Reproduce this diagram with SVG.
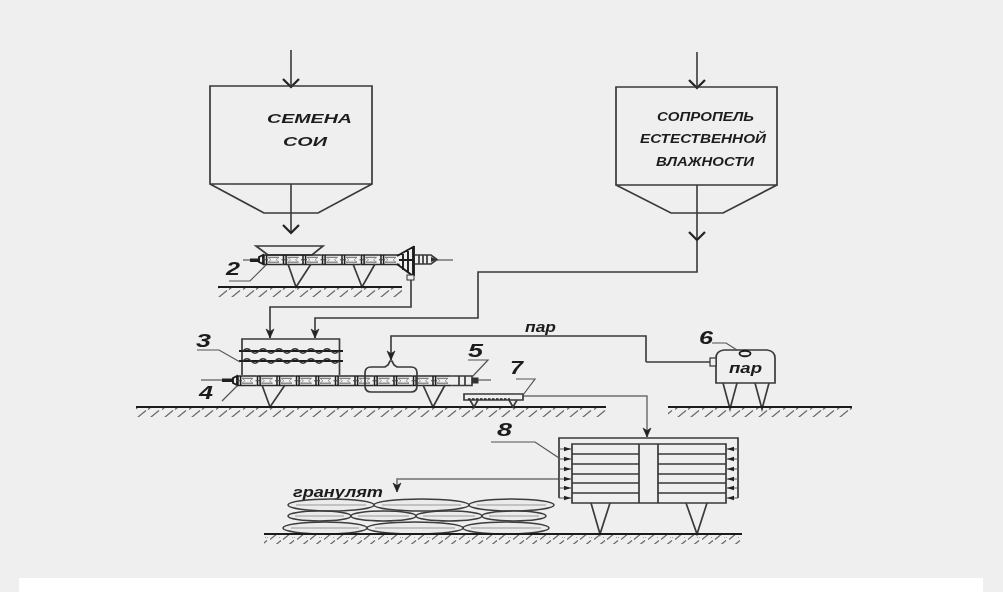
<svg xmlns="http://www.w3.org/2000/svg" xmlns:xlink="http://www.w3.org/1999/xlink" width="1003" height="592" viewBox="0 0 1003 592">
<style>
.l{fill:none;stroke:#3a3a3a;stroke-width:1.7}
.t{fill:none;stroke:#555;stroke-width:1.2}
.k{fill:none;stroke:#1c1c1c;stroke-width:1.9}
.c{fill:none;stroke:#3a3a3a;stroke-width:1.6}
.p{fill:none;stroke:#707070;stroke-width:1.5}
.g{fill:url(#hatch);stroke:none}
.e{fill:#ebebeb;stroke:#3c3c3c;stroke-width:1.6}
.m{fill:none;stroke:#999;stroke-width:1}
.a{stroke:#666;stroke-width:1.1;fill:none}
text{font-family:"Liberation Sans",Arial,sans-serif;font-style:italic;font-weight:bold;fill:#1c1c1c}
.b{font-size:14px}
.h{font-size:13.5px}
.n{font-size:18.5px}
</style>
<defs>
<filter id="soft" x="0" y="0" width="100%" height="100%"><feGaussianBlur stdDeviation="0.35"/></filter>
<marker id="open" markerUnits="userSpaceOnUse" markerWidth="20" markerHeight="18" refX="16" refY="9" orient="auto">
<path d="M8 1L16 9L8 17" fill="none" stroke="#222" stroke-width="2.2"/>
</marker>
<marker id="fill" markerUnits="userSpaceOnUse" markerWidth="12" markerHeight="10" refX="10" refY="5" orient="auto">
<path d="M1 1L10 5L1 9L3.5 5Z" fill="#222" stroke="#222" stroke-width=".6"/>
</marker>
<marker id="tiny" markerUnits="userSpaceOnUse" markerWidth="8" markerHeight="6" refX="7" refY="3" orient="auto">
<path d="M0 .8L7 3L0 5.200Z" fill="#222"/>
</marker>
<pattern id="hatch" patternUnits="userSpaceOnUse" width="27" height="10">
<path d="M0 9.500L11 .5M13 9.500L24 .5" stroke="#6a6a6a" stroke-width="1.300" fill="none"/>
<path d="M9 8L10 7M22 8L23 7M24 8L25 7" stroke="#a5a5a5" stroke-width="1" fill="none"/>
</pattern>
<g id="seg">
<path d="M0 0H19.500M0 9.500H19.500" stroke="#2c2c2c" stroke-width="1.500" fill="none"/>
<path d="M5 2.300H16M5 7.200H16" stroke="#666" stroke-width="1" fill="none"/>
<path d="M5 2.300L8 4.750L5 7.200M16 2.300L13 4.750L16 7.200" stroke="#888" stroke-width=".8" fill="none"/>
<path d="M1 0V9.500M3.600 0V9.500" stroke="#1c1c1c" stroke-width="1.500" fill="none"/>
<path d="M-1 4.750H5" stroke="#444" stroke-width="1"/>
</g>
<path id="wave" d="M0 0q4-4.500 8 0t8 0t8 0t8 0t8 0t8 0t8 0t8 0t8 0t8 0t8 0t8 0" fill="none" stroke="#333" stroke-width="1.300"/>
</defs>
<rect width="1003" height="592" fill="#efefef"/>
<rect x="19" y="578" width="964" height="14" fill="#fff"/>
<g id="diagram" filter="url(#soft)">
<g id="connectors">
<path class="c" d="M291 50V87" marker-end="url(#open)"/>
<path class="c" d="M291 184V233" marker-end="url(#open)"/>
<path class="c" d="M697 52V88" marker-end="url(#open)"/>
<path class="c" d="M697 185V240" marker-end="url(#open)"/>
<path class="c" d="M697 240V272H478V318H315V338" marker-end="url(#fill)"/>
<path class="c" d="M411 278V307H270V338" marker-end="url(#fill)"/>
<path class="c" d="M646 362V336H391V360" marker-end="url(#fill)"/>
<path class="c" d="M646 362H710"/>
<path class="p" d="M523 396H647V437" marker-end="url(#fill)"/>
<path class="p" d="M559 479H397V492" marker-end="url(#fill)"/>
<text class="b" x="525" y="332" textLength="31" lengthAdjust="spacingAndGlyphs">пар</text>
</g>

<g id="hopper-seeds">
<path class="l" d="M210 86H372V184H210ZM210 184L264 213H318L372 184"/>
<text class="h" x="267" y="123" textLength="85" lengthAdjust="spacingAndGlyphs">СЕМЕНА</text>
<text class="h" x="283" y="146" textLength="44" lengthAdjust="spacingAndGlyphs">СОИ</text>
</g>

<g id="hopper-soapstock">
<path class="l" d="M616 87H777V185H616ZM616 185L671 213H723L777 185"/>
<text class="h" x="657" y="121" textLength="97" lengthAdjust="spacingAndGlyphs">СОПРОПЕЛЬ</text>
<text class="h" x="640" y="143" textLength="126" lengthAdjust="spacingAndGlyphs">ЕСТЕСТВЕННОЙ</text>
<text class="h" x="656" y="166" textLength="98" lengthAdjust="spacingAndGlyphs">ВЛАЖНОСТИ</text>
</g>

<g id="extruder-2">
<path class="l" d="M256 246H323L312 255H268Z"/>
<path class="t" d="M243 260H251"/>
<rect x="250" y="258.500" width="9" height="3.500" fill="#222"/>
<path class="k" d="M259 257L263 255V264L259 262Z"/>
<use xlink:href="#seg" href="#seg" x="263" y="255"/>
<use xlink:href="#seg" href="#seg" x="282.500" y="255"/>
<use xlink:href="#seg" href="#seg" x="302" y="255"/>
<use xlink:href="#seg" href="#seg" x="321.500" y="255"/>
<use xlink:href="#seg" href="#seg" x="341" y="255"/>
<use xlink:href="#seg" href="#seg" x="360.500" y="255"/>
<use xlink:href="#seg" href="#seg" x="380" y="255"/>
<path class="k" d="M397 256L413 247V276L397 264M399 260H413M403 252V270M408 249V273"/>
<path class="k" d="M414 246V276"/>
<rect x="407" y="275" width="7" height="5" fill="#efefef" stroke="#333"/>
<path class="l" d="M415 255H431L437 259.500L431 264H415M419 255V264M423 255V264M427 255V264"/>
<path d="M431 257L437 259.500L431 262Z" fill="#333"/>
<path class="t" d="M437 260H453"/>
<path class="l" d="M288 264L296 287L311 264M353 264L362 287L375 264"/>
<rect class="g" x="218" y="287" width="184" height="10"/>
<path class="k" d="M218 287H402"/>
<text class="n" x="226" y="274.500" textLength="14" lengthAdjust="spacingAndGlyphs">2</text>
<path class="t" d="M229 281H250L266 265"/>
</g>

<g id="mixer-3">
<path class="l" d="M242 375V339H339.500V375"/>
<path class="k" d="M239 351H343M239 361H343"/>
<use xlink:href="#wave" href="#wave" x="243" y="351"/>
<use xlink:href="#wave" href="#wave" x="243" y="361"/>
<text class="n" x="196" y="346.500" textLength="15" lengthAdjust="spacingAndGlyphs">3</text>
<path class="t" d="M197 350H219L240 362"/>
</g>

<g id="extruder-4">
<path class="t" d="M201 380H222"/>
<rect x="222" y="378.500" width="11" height="3.500" fill="#222"/>
<path class="k" d="M233 378L237 376V385L233 383Z"/>
<use xlink:href="#seg" href="#seg" x="237" y="376"/>
<use xlink:href="#seg" href="#seg" x="256.500" y="376"/>
<use xlink:href="#seg" href="#seg" x="276" y="376"/>
<use xlink:href="#seg" href="#seg" x="295.500" y="376"/>
<use xlink:href="#seg" href="#seg" x="315" y="376"/>
<use xlink:href="#seg" href="#seg" x="334.500" y="376"/>
<use xlink:href="#seg" href="#seg" x="354" y="376"/>
<use xlink:href="#seg" href="#seg" x="373.500" y="376"/>
<use xlink:href="#seg" href="#seg" x="393" y="376"/>
<use xlink:href="#seg" href="#seg" x="412.500" y="376"/>
<use xlink:href="#seg" href="#seg" x="432" y="376"/>
<path class="l" d="M451.500 376H472V385.500H451.500M459 376V385.500M465 376V385.500"/>
<rect x="472" y="377.500" width="6.500" height="6" fill="#333"/>
<path class="t" d="M478 380H491"/>
<path class="l" d="M371 367H385L388 365L390 361H392L394 365L397 367H411Q417 367 417 373V386Q417 392 411 392H371Q365 392 365 386V373Q365 367 371 367Z"/>
<path class="l" d="M262 385L270 407L285 385M423 385L433 407L445 385"/>
<rect class="g" x="136" y="407" width="470" height="10"/>
<path class="k" d="M136 407H606"/>
<text class="n" x="199" y="398.500" textLength="14" lengthAdjust="spacingAndGlyphs">4</text>
<path class="t" d="M222 401L237 386"/>
</g>

<g id="label-5">
<text class="n" x="468" y="356.500" textLength="15" lengthAdjust="spacingAndGlyphs">5</text>
<path class="t" d="M468 360H488L472 377"/>
</g>

<g id="boiler-6">
<path class="l" d="M716 383V358Q716 351 724 350H767Q775 351 775 358V383Z"/>
<rect x="710" y="358" width="6" height="8" fill="#efefef" stroke="#333" stroke-width="1.200"/>
<ellipse cx="745" cy="353.500" rx="5.500" ry="2.800" class="k"/>
<text class="b" x="729" y="373" textLength="33" lengthAdjust="spacingAndGlyphs">пар</text>
<path class="l" d="M723 383L730 409L737 383M755 383L762 409L769 383"/>
<rect class="g" x="668" y="407" width="184" height="10"/>
<path class="k" d="M668 407H852"/>
<text class="n" x="699" y="343.500" textLength="14" lengthAdjust="spacingAndGlyphs">6</text>
<path class="t" d="M712 343H726L737 350"/>
</g>

<g id="belt-7">
<path class="l" d="M464 394H523V400H464Z"/>
<path d="M468 399H510" stroke="#222" stroke-width="1.500" stroke-dasharray="2.500 1.500"/>
<path class="l" d="M470 400L474 407L478 400M509 400L513 407L517 400"/>
<text class="n" x="510" y="373.500" textLength="13" lengthAdjust="spacingAndGlyphs">7</text>
<path class="t" d="M516 379H535L523 395"/>
</g>

<g id="dryer-8">
<path class="l" d="M559 498V438H738V498"/>
<path class="l" d="M572 444H726V503H572ZM639 444V503M658 444V503M572 454H639M658 454H726M572 464H639M658 464H726M572 474H639M658 474H726M572 483H639M658 483H726M572 493H639M658 493H726"/>
<path class="a" marker-end="url(#tiny)" d="M559 449H571"/>
<path class="a" marker-end="url(#tiny)" d="M559 459H571"/>
<path class="a" marker-end="url(#tiny)" d="M559 469H571"/>
<path class="a" marker-end="url(#tiny)" d="M559 479H571"/>
<path class="a" marker-end="url(#tiny)" d="M559 488H571"/>
<path class="a" marker-end="url(#tiny)" d="M559 498H571"/>
<path class="a" marker-end="url(#tiny)" d="M738 449H727"/>
<path class="a" marker-end="url(#tiny)" d="M738 459H727"/>
<path class="a" marker-end="url(#tiny)" d="M738 469H727"/>
<path class="a" marker-end="url(#tiny)" d="M738 479H727"/>
<path class="a" marker-end="url(#tiny)" d="M738 488H727"/>
<path class="a" marker-end="url(#tiny)" d="M738 498H727"/>
<path class="l" d="M591 503L600 534L610 503M686 503L697 534L707 503"/>
<text class="n" x="497" y="435.500" textLength="15" lengthAdjust="spacingAndGlyphs">8</text>
<path class="t" d="M491 442H535L559 458"/>
</g>

<g id="granulate">
<text class="b" x="293" y="497" textLength="90" lengthAdjust="spacingAndGlyphs">гранулят</text>
<ellipse class="e" cx="331" cy="505" rx="43" ry="6"/><path class="m" d="M296 505H366"/>
<ellipse class="e" cx="421.500" cy="505" rx="47.500" ry="6"/><path class="m" d="M382 505H461"/>
<ellipse class="e" cx="511.500" cy="505" rx="42.500" ry="6"/><path class="m" d="M477 505H546"/>
<ellipse class="e" cx="319.500" cy="516" rx="31.500" ry="5"/><path class="m" d="M295 516H344"/>
<ellipse class="e" cx="383.500" cy="516" rx="32.500" ry="5"/><path class="m" d="M358 516H409"/>
<ellipse class="e" cx="449" cy="516" rx="33" ry="5"/><path class="m" d="M423 516H475"/>
<ellipse class="e" cx="514" cy="516" rx="32" ry="5"/><path class="m" d="M489 516H539"/>
<ellipse class="e" cx="325" cy="528" rx="42" ry="6"/><path class="m" d="M291 528H359"/>
<ellipse class="e" cx="415" cy="528" rx="48" ry="6"/><path class="m" d="M375 528H455"/>
<ellipse class="e" cx="506" cy="528" rx="43" ry="6"/><path class="m" d="M471 528H541"/>
<rect class="g" x="264" y="534" width="478" height="10"/>
<path class="k" d="M264 534H742"/>
</g>
</g>
</svg>
